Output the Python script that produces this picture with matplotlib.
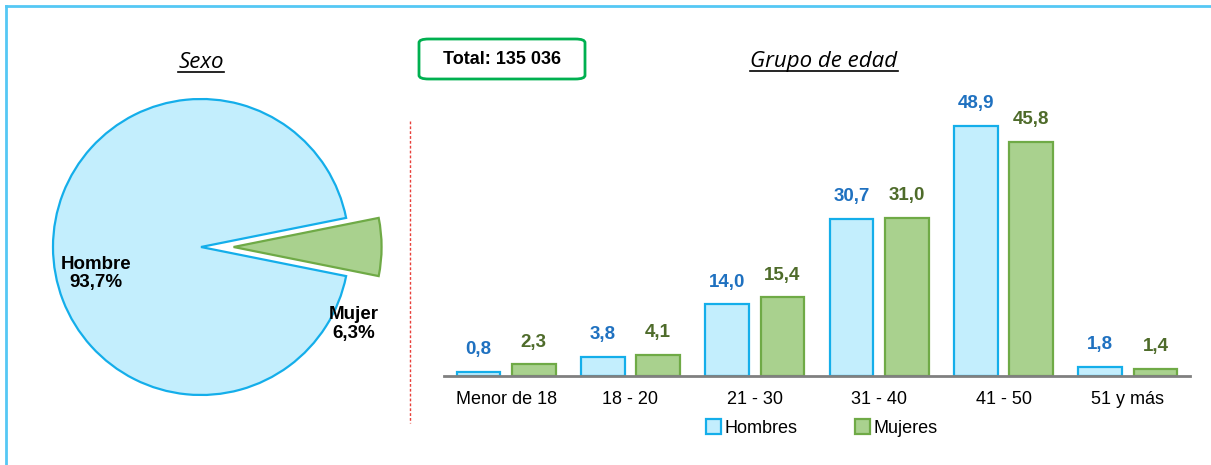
import matplotlib
matplotlib.use("Agg")
import matplotlib.pyplot as plt
import numpy as np
from matplotlib.patches import FancyBboxPatch
from matplotlib.lines import Line2D

# ---------------- data ----------------
sexo_labels = ["Mujer", "Hombre"]
sexo_values = [6.3, 93.7]

age_groups = ["Menor de 18", "18 - 20", "21 - 30", "31 - 40", "41 - 50", "51 y más"]
hombres = [0.8, 3.8, 14.0, 30.7, 48.9, 1.8]
mujeres = [2.3, 4.1, 15.4, 31.0, 45.8, 1.4]
series_names = ["Hombres", "Mujeres"]
total_text = "Total: 135 036"

# ---------------- style ----------------
NARROW = ["Liberation Sans Narrow", "Liberation Sans", "DejaVu Sans"]
TITLEF = ["Open Sans", "DejaVu Sans"]
c_h_fill, c_h_edge = "#C3EEFD", "#14AEEA"
c_m_fill, c_m_edge = "#A9D18E", "#6FAA46"
c_h_txt, c_m_txt = "#1F71C0", "#4E6B2A"

W, H = 1211, 465
fig = plt.figure(figsize=(W / 100, H / 100), dpi=100)

def fx(px):
    return px / W

def fy(py):
    return 1 - py / H

# ---------------- pie ----------------
R = 148.0
cx, cy = 201, 247
lim = 1.3
side = 2 * lim * R
axp = fig.add_axes([fx(cx - side / 2), fy(cy + side / 2), side / W, side / H])
wedges, _ = axp.pie(sexo_values, colors=[c_m_fill, c_h_fill],
                    startangle=-sexo_values[0] / 100 * 180, counterclock=True,
                    explode=[0.22, 0.0], radius=1.0,
                    wedgeprops=dict(linewidth=1.6))
wedges[0].set_edgecolor(c_m_edge)
wedges[1].set_edgecolor(c_h_edge)
axp.set_xlim(-lim, lim)
axp.set_ylim(-lim, lim)
axp.set_aspect("equal")
axp.axis("off")
axp.text(-0.71, -0.18, f"Hombre\n{str(sexo_values[1]).replace('.', ',')}%",
         ha="center", va="center", fontsize=13.5, fontweight="bold",
         family=NARROW, linespacing=1.1)
axp.text(1.03, -0.52, f"Mujer\n{str(sexo_values[0]).replace('.', ',')}%",
         ha="center", va="center", fontsize=13.5, fontweight="bold",
         family=NARROW, linespacing=1.1)

# ---------------- bars ----------------
x0, x1 = 444, 1190
base = 376
ppu = 5.11
ytop = 62
axb = fig.add_axes([fx(x0), fy(base), (x1 - x0) / W, ytop * ppu / H])
x = np.arange(len(age_groups))
bw = 0.35
off = 0.222
bh = axb.bar(x - off, hombres, bw, color=c_h_fill, edgecolor=c_h_edge, linewidth=1.6, label=series_names[0])
bm = axb.bar(x + off, mujeres, bw, color=c_m_fill, edgecolor=c_m_edge, linewidth=1.6, label=series_names[1])
axb.set_xlim(-0.5, len(age_groups) - 0.5)
axb.set_ylim(0, ytop)
for s in ["top", "right", "left"]:
    axb.spines[s].set_visible(False)
axb.spines["bottom"].set_color("#808080")
axb.spines["bottom"].set_linewidth(2)
axb.set_yticks([])
axb.set_xticks(x)
axb.set_xticklabels(age_groups, family=NARROW, fontsize=13)
axb.tick_params(axis="x", length=0, pad=11)

fmt = lambda v: f"{v:.1f}".replace(".", ",")
for xi, v in zip(x, hombres):
    axb.annotate(fmt(v), (xi - off, v), xytext=(0, 16), textcoords="offset points",
                 ha="center", va="center", fontsize=13.5, fontweight="bold",
                 color=c_h_txt, family=NARROW)
for xi, v in zip(x, mujeres):
    axb.annotate(fmt(v), (xi + off, v), xytext=(0, 16), textcoords="offset points",
                 ha="center", va="center", fontsize=13.5, fontweight="bold",
                 color=c_m_txt, family=NARROW)

leg = fig.legend(handles=[bh, bm], labels=series_names, loc="center",
                 bbox_to_anchor=(fx(822), fy(428)), ncol=2, frameon=False,
                 prop=dict(family=NARROW, size=13), handlelength=0.8,
                 handleheight=0.9, handletextpad=0.2, columnspacing=3.2)

# ---------------- titles & decorations ----------------
t1 = fig.text(fx(201), fy(63), "Sexo", ha="center", va="center", fontsize=16,
              style="italic", family=TITLEF)
t2 = fig.text(fx(824), fy(62), "Grupo de edad", ha="center", va="center", fontsize=16,
              style="italic", family=TITLEF)

box = FancyBboxPatch((fx(419), fy(79)), fx(166), 40 / H,
                     boxstyle="round,pad=0,rounding_size=0.008",
                     transform=fig.transFigure, facecolor="white",
                     edgecolor="#00B050", linewidth=2)
fig.add_artist(box)
fig.text(fx(502), fy(59), total_text, ha="center", va="center", fontsize=13,
         fontweight="bold", family=NARROW)

# red dashed divider
fig.add_artist(Line2D([fx(410), fx(410)], [fy(121), fy(423)], transform=fig.transFigure,
                      color="#E8403A", linewidth=1, linestyle=(0, (2, 1.5))))
# frame lines
fig.add_artist(Line2D([fx(6), fx(W)], [fy(6), fy(6)], transform=fig.transFigure,
                      color="#55C8F4", linewidth=2))
fig.add_artist(Line2D([fx(6), fx(6)], [fy(6), 0], transform=fig.transFigure,
                      color="#55C8F4", linewidth=2))

# underline titles
fig.canvas.draw()
r = fig.canvas.get_renderer()
for t in (t1, t2):
    bb = t.get_window_extent(r)
    yline = bb.y0 + 1
    fig.add_artist(Line2D([bb.x0 / W, bb.x1 / W], [yline / H, yline / H],
                          transform=fig.transFigure, color="black", linewidth=1.2))

fig.savefig("out.png", dpi=100)
